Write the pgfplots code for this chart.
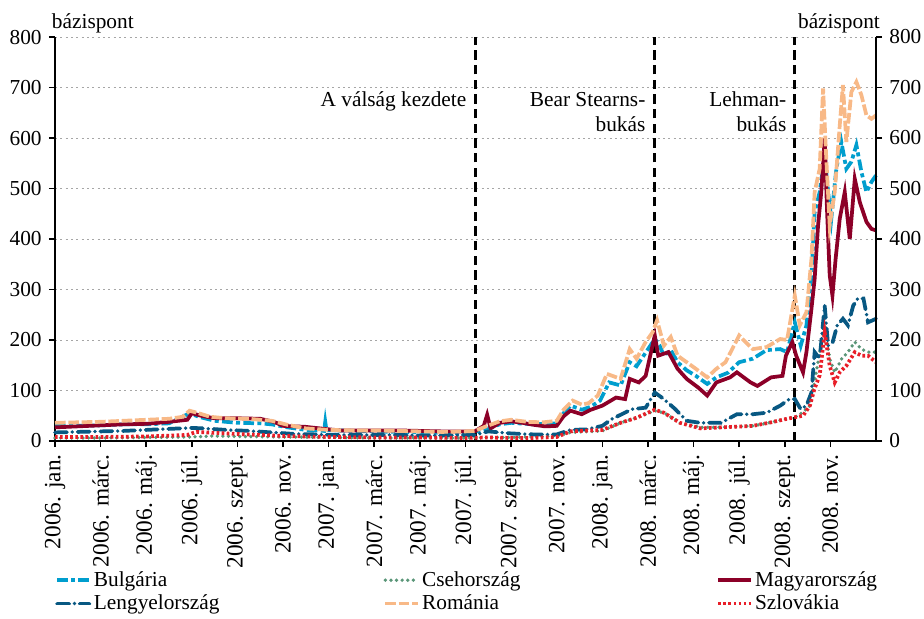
\documentclass[border=0pt]{standalone}
\usepackage{fontspec}
\setmainfont{Liberation Serif}
\usepackage{pgfplots}
\pgfplotsset{compat=1.18}
\definecolor{cBG}{RGB}{0,158,206}
\definecolor{cCZ}{RGB}{90,150,120}
\definecolor{cHU}{RGB}{140,0,40}
\definecolor{cPL}{RGB}{8,88,130}
\definecolor{cRO}{RGB}{248,185,135}
\definecolor{cSK}{RGB}{232,30,40}
\begin{document}
\fontsize{16}{19.5}\selectfont
\begin{tikzpicture}
\begin{axis}[
  at={(0,0)}, anchor=south west,
  scale only axis, width=615.75pt, height=303pt,
  xmin=0, xmax=36, ymin=0, ymax=800,
  axis x line*=bottom, axis y line*=left,
  axis line style={line width=1.3pt},
  tick align=outside, major tick length=4.5pt,
  tick style={line width=1.2pt, black},
  xtick={0,2,...,34},
  xticklabels={2006. jan.,2006. márc.,2006. máj.,2006. júl.,2006. szept.,2006. nov.,
    2007. jan.,2007. márc.,2007. máj.,2007. júl.,2007. szept.,2007. nov.,
    2008. jan.,2008. márc.,2008. máj.,2008. júl.,2008. szept.,2008. nov.},
  xticklabel style={rotate=90, anchor=east, font=\fontsize{17.5}{20}\selectfont},
  ytick={0,100,...,800},
  ymajorgrids, grid style={gray!70, line width=0.6pt, dash pattern=on 1.5pt off 2.5pt},
  /pgf/number format/assume math mode=true,
  clip=false,
  legend cell align=left,
  legend style={draw=none, fill=none, inner sep=0pt, at={(0.0,-0.315)}, anchor=north west,
    legend columns=3, row sep=0pt,
    /tikz/column 2/.style={column sep=121pt},
    /tikz/column 4/.style={column sep=145pt}},
  legend image code/.code={\draw[#1] (0cm,0cm) -- (0.85cm,0cm);},
]
% vertical event lines
\addplot[forget plot, black, line width=2.2pt, dash pattern=on 7pt off 4pt] coordinates {(18.45,0) (18.45,800)};
\addplot[forget plot, black, line width=2.2pt, dash pattern=on 7pt off 4pt] coordinates {(26.3,0) (26.3,800)};
\addplot[forget plot, black, line width=2.2pt, dash pattern=on 7pt off 4pt] coordinates {(32.44,0) (32.44,800)};

% Bulgaria
\addplot[cBG, line width=2.8pt, dash pattern=on 8pt off 2.5pt on 3pt off 2.5pt] coordinates {
(0,30)(1,30)(2,31)(3,33)(4,33)(5,35)(5.9,55)(6.3,48)(7,40)(8,36)(9,35)(9.5,33)(10.2,27)(11,22)(11.8,20)(11.85,38)(11.9,22)(13,20)(14,19)(15,18)(16,17)(17,16)(18,16)(18.4,18)(19,25)(19.5,33)(20,36)(21,33)(22,35)(22.3,55)(22.6,70)(23.1,62)(23.5,68)(23.9,80)(24.3,116)(24.8,110)(25.2,156)(25.5,148)(25.9,175)(26.3,202)(26.5,190)(26.7,169)(27.0,180)(27.3,156)(27.7,140)(28.1,129)(28.6,113)(29.0,126)(29.5,135)(30.0,156)(30.6,163)(31.2,180)(31.8,182)(32.1,176)(32.4,229)(32.44,235)(32.7,189)(32.95,229)(33.17,328)(33.31,453)(33.53,493)(33.75,566)(33.9,493)(34.04,440)(34.26,539)(34.48,592)(34.7,539)(34.92,553)(35.14,586)(35.36,533)(35.58,493)(35.8,513)(36,526)};
\addlegendentry{Bulgária}

% Czech
\addplot[cCZ, line width=2.8pt, line cap=round, dash pattern=on 0pt off 4.2pt] coordinates {
(0,6)(2,6)(4,7)(6,8)(7,10)(8,9)(10,8)(12,7)(14,6)(16,6)(18,6)(19,7)(20,7)(21,8)(22,10)(22.6,17)(24,20)(24.8,36)(25.5,46)(26.3,60)(26.7,56)(27.4,36)(28.3,27)(29.2,27)(30.6,30)(31.3,36)(32.1,44)(32.44,47)(32.8,57)(33.1,70)(33.3,116)(33.53,176)(33.75,229)(33.97,163)(34.19,136)(34.5,163)(34.77,176)(35.07,196)(35.36,182)(35.65,176)(36,176)};
\addlegendentry{Csehország}

% Hungary
\addplot[cHU, line width=2.8pt] coordinates {
(0,27)(1,29)(2,31)(3,33)(4,34)(5,38)(5.8,42)(6.0,55)(6.4,50)(7,45)(8,45)(9,44)(9.6,38)(10,30)(11,28)(11.8,24)(12.5,21)(13,21)(14,21)(15,21)(16,20)(17,19)(18,19)(18.4,19)(18.8,30)(18.95,52)(19.1,25)(19.5,36)(20,39)(20.5,36)(21,32)(21.5,29)(22,30)(22.3,49)(22.6,60)(23.1,53)(23.5,62)(24,70)(24.6,86)(25.0,83)(25.2,123)(25.6,116)(25.9,129)(26.3,209)(26.45,169)(26.9,176)(27.3,143)(27.7,123)(28.2,106)(28.6,90)(29.0,116)(29.6,126)(29.9,136)(30.5,116)(30.8,109)(31.4,126)(31.9,129)(32.05,169)(32.33,196)(32.5,169)(32.8,136)(32.95,176)(33.17,262)(33.31,321)(33.46,427)(33.6,493)(33.75,599)(33.85,460)(33.97,328)(34.09,288)(34.23,361)(34.41,440)(34.63,493)(34.85,400)(35.07,519)(35.29,473)(35.58,434)(35.8,420)(36,417)};
\addlegendentry{Magyarország}

% Poland
\addplot[cPL, line width=2.8pt, line cap=round, dash pattern=on 9pt off 4pt on 0pt off 4pt] coordinates {
(0,17)(1,18)(2,19)(3,20)(4,22)(5,24)(6,26)(6.5,25)(7.5,22)(8.5,20)(9.5,17)(10.5,14)(11.5,13)(12.5,12)(14,12)(15,12)(16,11)(17,11)(18,12)(18.4,12)(19,19)(20,15)(21,13)(22,13)(22.6,22)(23.3,23)(24,30)(24.4,43)(25.3,63)(25.9,66)(26.3,96)(26.7,83)(27.2,63)(27.7,40)(28.3,36)(29.2,36)(29.9,53)(30.6,53)(31.2,56)(31.8,70)(32.2,83)(32.44,83)(32.7,63)(32.95,70)(33.17,96)(33.31,176)(33.53,163)(33.75,268)(33.9,189)(34.1,196)(34.3,229)(34.55,242)(34.77,229)(35.0,268)(35.2,282)(35.45,282)(35.65,235)(36,242)};
\addlegendentry{Lengyelország}

% Romania
\addplot[cRO, line width=2.8pt, dash pattern=on 8pt off 2pt] coordinates {
(0,36)(1,37)(2,38)(3,40)(4,42)(5,44)(5.6,48)(5.9,60)(6.3,55)(6.8,48)(7.5,45)(8.5,44)(9.5,40)(10.2,32)(11,25)(12,22)(13,21)(14,21)(15,20)(16,19)(17,18)(18,19)(18.4,20)(18.9,29)(19.5,39)(20,42)(20.7,38)(21.4,37)(22,40)(22.3,62)(22.7,80)(23.1,72)(23.4,75)(23.8,90)(24.2,133)(24.5,128)(24.8,123)(25.2,182)(25.5,163)(25.9,196)(26.2,215)(26.4,239)(26.7,189)(27.0,206)(27.3,169)(27.7,156)(28.1,143)(28.6,126)(29.0,143)(29.4,156)(30.0,209)(30.3,195)(30.6,182)(31.2,186)(31.8,202)(32.1,200)(32.44,288)(32.66,229)(32.95,255)(33.17,361)(33.31,493)(33.53,539)(33.68,698)(33.82,559)(33.97,427)(34.19,493)(34.41,625)(34.55,705)(34.7,592)(34.92,691)(35.14,711)(35.36,685)(35.58,645)(35.8,638)(36,645)};
\addlegendentry{Románia}

% Slovakia
\addplot[cSK, line width=2.8pt, dash pattern=on 2pt off 1.8pt] coordinates {
(0,8)(2,8)(4,9)(5.8,12)(6.2,18)(7,16)(8,14)(9,12)(10,10)(12,8)(14,7)(16,7)(18,6)(19,7)(20,6)(21,6)(22,8)(22.6,19)(24,22)(24.8,36)(25.5,46)(26.3,62)(26.7,56)(27.4,36)(28.3,25)(29.2,27)(30.6,30)(31.3,36)(32.1,44)(32.44,47)(32.8,50)(33.1,70)(33.3,103)(33.53,130)(33.75,215)(33.97,149)(34.19,116)(34.41,136)(34.7,149)(35.07,176)(35.36,169)(35.65,169)(36,156)};
\addlegendentry{Szlovákia}

% annotations
\node[anchor=base east, inner sep=0pt] at (axis cs:18.05,662) {A válság kezdete};
\node[anchor=base east, inner sep=0pt] at (axis cs:25.9,662) {Bear Stearns-};
\node[anchor=base east, inner sep=0pt] at (axis cs:25.9,612) {bukás};
\node[anchor=base east, inner sep=0pt] at (axis cs:32.08,662) {Lehman-};
\node[anchor=base east, inner sep=0pt] at (axis cs:32.08,612) {bukás};
\node[anchor=base west, inner sep=0pt] at (axis description cs:-0.004,1.022) {bázispont};
\node[anchor=base east, inner sep=0pt] at (axis description cs:1.005,1.022) {bázispont};
\end{axis}
\begin{axis}[
  at={(0,0)}, anchor=south west,
  scale only axis, width=615.75pt, height=303pt,
  xmin=0, xmax=36, ymin=0, ymax=800,
  axis x line=none, axis y line*=right,
  axis line style={line width=1.3pt},
  tick align=outside, major tick length=4.5pt,
  tick style={line width=1.2pt, black},
  ytick={0,100,...,800},
  /pgf/number format/assume math mode=true,
]
\addplot[draw=none] coordinates {(0,0)};
\end{axis}
\pgfresetboundingbox
\useasboundingbox (-41.25pt,-132.75pt) rectangle (651.75pt,330.75pt);
\end{tikzpicture}
\end{document}
